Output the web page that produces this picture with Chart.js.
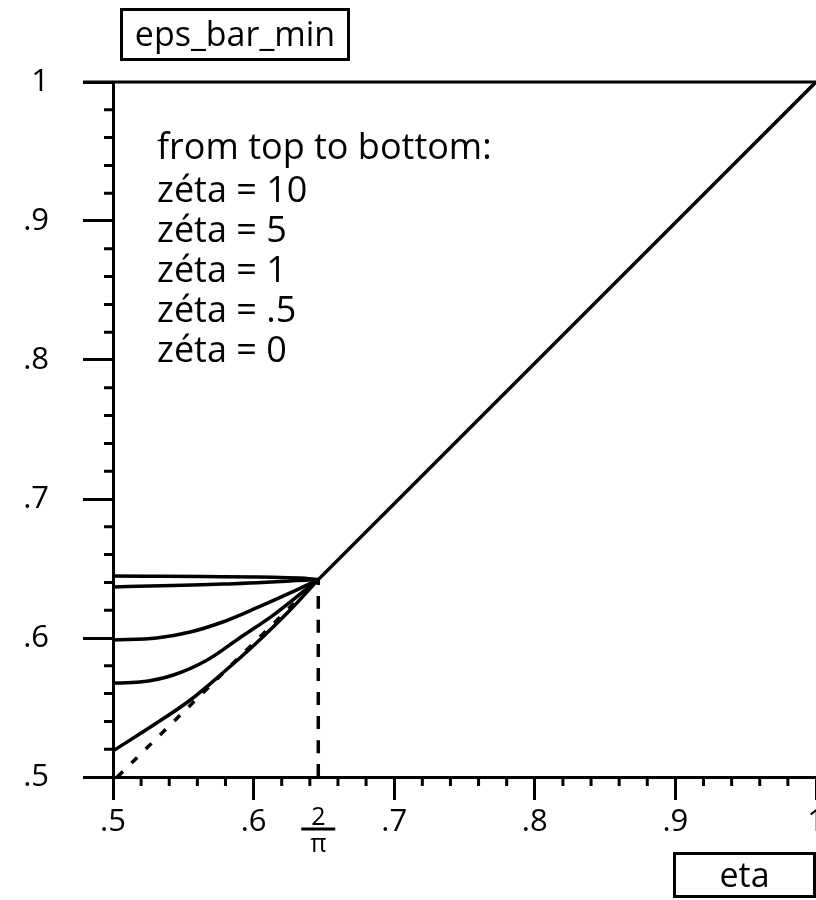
<!DOCTYPE html>
<html lang="en">
<head>
    <meta charset="UTF-8">
    <title>eps_bar_min</title>
    <style>
        body {
            margin: 0;
            background: #fff;
        }
        .wrap {
            position: relative;
            width: 816px;
            height: 900px;
            font-family: "Open Sans", sans-serif;
            color: #000;
        }
        canvas {
            position: absolute;
            left: 0;
            top: 0;
        }
        .box {
            position: absolute;
            border: 3px solid #000;
            box-sizing: border-box;
            text-align: center;
            font-size: 34px;
        }
        #title {
            left: 120px;
            top: 8px;
            width: 230px;
            height: 53px;
            line-height: 44px;
        }
        #xname {
            left: 673px;
            top: 852px;
            width: 143px;
            height: 46px;
            line-height: 38px;
        }
        .note {
            position: absolute;
            left: 157px;
            top: 126px;
            font-size: 36px;
            line-height: 40px;
            white-space: pre;
        }
        .note .head {
            margin-bottom: 3px;
        }
    </style>
</head>
<body>

<div class="wrap">
    <canvas id="chart" width="816" height="900"></canvas>
    <div class="box" id="title">eps_bar_min</div>
    <div class="box" id="xname">eta</div>
    <div class="note" id="note"><div class="head">from top to bottom:</div></div>
</div>

<script src="https://cdn.jsdelivr.net/npm/chart.js"></script>
<script>
    // values (eta on x, eps_bar_min on y)
    const zetaValues = ['10', '5', '1', '.5', '0'];

    const etaZeta10 = [0.500, 0.633, 0.646];
    const epsZeta10 = [0.6446, 0.6432, 0.642];

    const etaZeta5 = [0.500, 0.578, 0.646];
    const epsZeta5 = [0.6367, 0.6388, 0.642];

    const etaZeta1 = [0.500, 0.531, 0.555, 0.578, 0.602, 0.626, 0.646];
    const epsZeta1 = [0.5986, 0.600, 0.6043, 0.6115, 0.6216, 0.6324, 0.642];

    const etaZetaHalf = [0.500, 0.519, 0.543, 0.567, 0.590, 0.614, 0.635, 0.646];
    const epsZetaHalf = [0.5676, 0.5683, 0.5734, 0.5842, 0.600, 0.6165, 0.6331, 0.642];

    const etaZeta0 = [0.501, 0.531, 0.555, 0.578, 0.602, 0.626, 0.646];
    const epsZeta0 = [0.5194, 0.5388, 0.5554, 0.5748, 0.5964, 0.6201, 0.642];

    // common part above 2/pi
    const etaDiag = [0.646, 1.0];
    const epsDiag = [0.642, 1.0];

    // dashed guides
    const etaDashDiag = [0.503, 0.646];
    const epsDashDiag = [0.500, 0.642];
    const etaDashVert = [0.646, 0.646];
    const epsDashVert = [0.500, 0.642];

    // axes
    const xMajor = [0.5, 0.6, 0.646, 0.7, 0.8, 0.9, 1.0];
    const xMajorLabels = ['.5', '.6', ['2', 'π'], '.7', '.8', '.9', '1'];
    const xMinor = [0.52, 0.54, 0.56, 0.58, 0.62, 0.64, 0.66, 0.68, 0.72, 0.74, 0.76, 0.78,
                    0.82, 0.84, 0.86, 0.88, 0.92, 0.94, 0.96, 0.98];
    const yMajor = [0.5, 0.6, 0.7, 0.8, 0.9, 1.0];
    const yMajorLabels = ['.5', '.6', '.7', '.8', '.9', '1'];
    const yMinor = [0.52, 0.54, 0.56, 0.58, 0.62, 0.64, 0.66, 0.68, 0.72, 0.74, 0.76, 0.78,
                    0.82, 0.84, 0.86, 0.88, 0.92, 0.94, 0.96, 0.98];
    const twoOverPi = 0.646;

    const note = document.getElementById('note');
    zetaValues.forEach(z => {
        const line = document.createElement('div');
        line.textContent = 'zéta = ' + z;
        note.appendChild(line);
    });

    function pts(xs, ys) {
        return xs.map((x, i) => ({ x: x, y: ys[i] }));
    }

    function curve(xs, ys, dash) {
        return {
            data: pts(xs, ys),
            showLine: true,
            borderColor: '#000',
            borderWidth: 3.5,
            borderDash: dash || [],
            pointRadius: 0,
            cubicInterpolationMode: 'monotone',
            fill: false
        };
    }

    // short minor ticks, fraction bar and top frame line
    const extras = {
        id: 'extras',
        afterDraw(chart) {
            const ctx = chart.ctx;
            const xs = chart.scales.x;
            const ys = chart.scales.y;
            const x0 = xs.getPixelForValue(0.5);
            const y0 = ys.getPixelForValue(0.5);
            ctx.save();
            ctx.strokeStyle = '#000';
            ctx.lineWidth = 3;
            ctx.beginPath();
            xMinor.forEach(v => {
                const p = xs.getPixelForValue(v);
                ctx.moveTo(p, y0);
                ctx.lineTo(p, y0 + 9);
            });
            yMinor.forEach(v => {
                const p = ys.getPixelForValue(v);
                ctx.moveTo(x0, p);
                ctx.lineTo(x0 - 9, p);
            });
            // top frame at eps = 1
            const yTop = ys.getPixelForValue(1.0);
            ctx.moveTo(x0 - 30, yTop);
            ctx.lineTo(xs.getPixelForValue(1.0), yTop);
            ctx.stroke();
            // bar of the 2/pi fraction
            const pf = xs.getPixelForValue(twoOverPi);
            ctx.lineWidth = 3;
            ctx.beginPath();
            ctx.moveTo(pf - 17, y0 + 52);
            ctx.lineTo(pf + 17, y0 + 52);
            ctx.stroke();
            ctx.restore();
        }
    };

    const tickFont = { family: '"Open Sans", sans-serif', size: 31 };

    new Chart(document.getElementById('chart'), {
        type: 'scatter',
        data: {
            datasets: [
                curve(etaZeta10, epsZeta10),
                curve(etaZeta5, epsZeta5),
                curve(etaZeta1, epsZeta1),
                curve(etaZetaHalf, epsZetaHalf),
                curve(etaZeta0, epsZeta0),
                curve(etaDiag, epsDiag),
                curve(etaDashDiag, epsDashDiag, [8, 12]),
                curve(etaDashVert, epsDashVert, [13, 11])
            ]
        },
        options: {
            responsive: false,
            animation: false,
            layout: { padding: { top: 82, left: 0, right: 0, bottom: 0 } },
            plugins: {
                legend: { display: false },
                tooltip: { enabled: false }
            },
            scales: {
                x: {
                    type: 'linear',
                    min: 0.5,
                    max: 1.0,
                    afterBuildTicks: s => { s.ticks = xMajor.map(v => ({ value: v })); },
                    afterFit: s => { s.height = 123; s.paddingLeft = 0; s.paddingRight = 0; },
                    border: { color: '#000', width: 3 },
                    grid: {
                        drawOnChartArea: false,
                        tickLength: 23,
                        tickWidth: 3,
                        tickColor: c => (c.tick && c.tick.value === twoOverPi) ? 'rgba(0,0,0,0)' : '#000'
                    },
                    ticks: {
                        autoSkip: false,
                        maxRotation: 0,
                        padding: 4,
                        color: '#000',
                        font: c => (c.tick && c.tick.value === twoOverPi)
                            ? { family: tickFont.family, size: 25, lineHeight: 1.1 }
                            : tickFont,
                        callback: (v, i) => xMajorLabels[i]
                    }
                },
                y: {
                    type: 'linear',
                    min: 0.5,
                    max: 1.0,
                    afterBuildTicks: s => { s.ticks = yMajor.map(v => ({ value: v })); },
                    afterFit: s => { s.width = 113; s.paddingTop = 0; s.paddingBottom = 0; },
                    border: { color: '#000', width: 3 },
                    grid: {
                        drawOnChartArea: false,
                        tickLength: 30,
                        tickWidth: 3,
                        tickColor: '#000'
                    },
                    ticks: {
                        padding: 34,
                        color: '#000',
                        font: tickFont,
                        callback: (v, i) => yMajorLabels[i]
                    }
                }
            }
        },
        plugins: [extras]
    });
</script>

</body>
</html>
